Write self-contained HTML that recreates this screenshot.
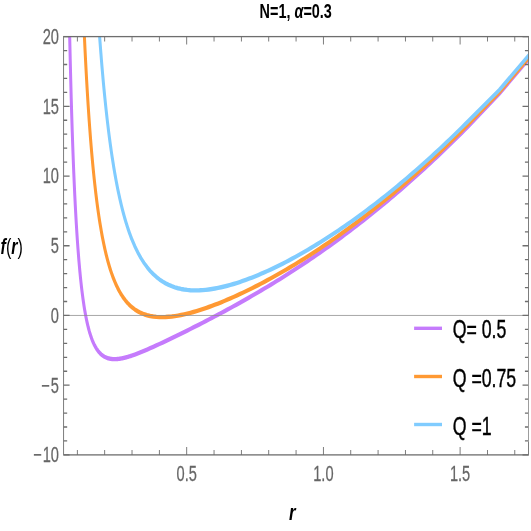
<!DOCTYPE html>
<html><head><meta charset="utf-8"><title>plot</title>
<style>html,body{margin:0;padding:0;background:#fff;}body{width:531px;height:531px;overflow:hidden;position:relative;font-family:"Liberation Sans",sans-serif;}</style></head>
<body>
<svg width="531" height="531" viewBox="0 0 772.926 531" preserveAspectRatio="none" style="position:absolute;left:0;top:0;will-change:transform;font-family:'Liberation Sans',sans-serif">
<defs><clipPath id="c"><rect x="92.58" y="36.60" width="676.71" height="418.29"/></clipPath></defs>
<g clip-path="url(#c)" fill="none" stroke-width="4.4" stroke-linejoin="round">
<path d="M99.94,-14.21 L100.69,12.36 L101.43,36.68 L102.18,58.99 L102.93,79.48 L103.67,98.34 L104.42,115.73 L105.16,131.77 L105.91,146.60 L106.66,160.34 L107.40,173.06 L108.15,184.87 L108.89,195.85 L109.64,206.05 L110.39,215.56 L111.13,224.41 L111.88,232.68 L112.62,240.39 L113.37,247.61 L114.12,254.35 L114.86,260.67 L115.61,266.58 L116.35,272.13 L117.10,277.33 L117.85,282.21 L118.59,286.80 L119.34,291.11 L120.08,295.16 L120.83,298.98 L121.58,302.57 L122.32,305.94 L123.07,309.13 L123.81,312.13 L124.56,314.96 L125.31,317.62 L126.05,320.14 L126.80,322.51 L127.55,324.75 L128.29,326.87 L129.04,328.86 L129.78,330.75 L130.53,332.53 L131.28,334.21 L132.02,335.80 L132.77,337.30 L133.51,338.72 L134.26,340.06 L135.01,341.32 L135.75,342.52 L136.50,343.65 L137.24,344.71 L137.99,345.72 L138.74,346.67 L139.48,347.56 L140.23,348.41 L140.97,349.20 L141.72,349.95 L142.47,350.66 L143.21,351.33 L143.96,351.95 L144.70,352.54 L145.45,353.09 L146.20,353.61 L146.94,354.10 L147.69,354.56 L148.43,354.98 L149.18,355.38 L149.93,355.76 L150.67,356.10 L151.42,356.43 L152.16,356.73 L152.91,357.00 L153.66,357.26 L154.40,357.50 L155.15,357.71 L155.89,357.91 L156.64,358.09 L157.39,358.26 L158.13,358.41 L158.88,358.54 L159.62,358.66 L160.37,358.76 L161.12,358.85 L161.86,358.93 L162.61,358.99 L163.35,359.05 L164.10,359.09 L164.85,359.12 L165.59,359.14 L166.34,359.15 L167.08,359.15 L167.83,359.14 L168.58,359.13 L169.32,359.10 L170.07,359.07 L170.81,359.02 L171.56,358.98 L172.31,358.92 L173.05,358.86 L173.80,358.79 L174.54,358.71 L175.29,358.63 L176.04,358.54 L176.78,358.44 L177.53,358.34 L178.27,358.24 L179.02,358.13 L179.77,358.01 L180.51,357.89 L181.26,357.77 L182.00,357.64 L182.75,357.51 L183.50,357.37 L184.24,357.23 L184.99,357.09 L185.73,356.94 L186.48,356.79 L187.23,356.63 L187.97,356.47 L188.72,356.31 L189.46,356.15 L190.21,355.98 L190.96,355.81 L191.70,355.64 L196.19,354.55 L200.69,353.38 L205.18,352.16 L209.67,350.88 L214.16,349.56 L218.65,348.21 L223.14,346.82 L227.63,345.42 L232.12,343.99 L236.61,342.55 L241.10,341.09 L245.60,339.62 L250.09,338.13 L254.58,336.64 L259.07,335.13 L263.56,333.61 L268.05,332.09 L272.54,330.55 L277.03,329.00 L281.52,327.45 L286.01,325.88 L290.51,324.31 L295.00,322.72 L299.49,321.13 L303.98,319.52 L308.47,317.91 L312.96,316.28 L317.45,314.64 L321.94,312.99 L326.43,311.33 L330.92,309.66 L335.42,307.98 L339.91,306.28 L344.40,304.57 L348.89,302.85 L353.38,301.11 L357.87,299.36 L362.36,297.60 L366.85,295.82 L371.34,294.03 L375.83,292.22 L380.33,290.40 L384.82,288.57 L389.31,286.71 L393.80,284.85 L398.29,282.96 L402.78,281.06 L407.27,279.15 L411.76,277.22 L416.25,275.27 L420.74,273.31 L425.24,271.32 L429.73,269.32 L434.22,267.31 L438.71,265.28 L443.20,263.22 L447.69,261.16 L452.18,259.07 L456.67,256.96 L461.16,254.84 L465.65,252.70 L470.15,250.54 L474.64,248.36 L479.13,246.17 L483.62,243.95 L488.11,241.72 L492.60,239.46 L497.09,237.19 L501.58,234.90 L506.07,232.59 L510.56,230.26 L515.06,227.91 L519.55,225.54 L524.04,223.15 L528.53,220.74 L533.02,218.31 L537.51,215.87 L542.00,213.40 L546.49,210.91 L550.98,208.40 L555.47,205.87 L559.97,203.32 L564.46,200.75 L568.95,198.16 L573.44,195.55 L577.93,192.92 L582.42,190.27 L586.91,187.60 L591.40,184.90 L595.89,182.19 L600.38,179.45 L604.88,176.70 L609.37,173.92 L613.86,171.12 L618.35,168.31 L622.84,165.47 L627.33,162.60 L631.82,159.72 L636.31,156.82 L640.80,153.89 L645.29,150.95 L649.79,147.98 L654.28,144.99 L658.77,141.98 L663.26,138.95 L667.75,135.89 L672.24,132.82 L676.73,129.72 L681.22,126.60 L726.78,93.73 L769.29,59.32 L780.93,49.89" stroke="#C57BFC"/>
<path d="M120.08,-8.81 L120.83,4.22 L121.58,16.62 L122.32,28.41 L123.07,39.65 L123.81,50.35 L124.56,60.56 L125.31,70.30 L126.05,79.60 L126.80,88.48 L127.55,96.97 L128.29,105.08 L129.04,112.85 L129.78,120.28 L130.53,127.39 L131.28,134.21 L132.02,140.75 L132.77,147.01 L133.51,153.02 L134.26,158.79 L135.01,164.33 L135.75,169.65 L136.50,174.76 L137.24,179.67 L137.99,184.39 L138.74,188.94 L139.48,193.31 L140.23,197.51 L140.97,201.57 L141.72,205.47 L142.47,209.22 L143.21,212.84 L143.96,216.34 L144.70,219.70 L145.45,222.95 L146.20,226.08 L146.94,229.10 L147.69,232.02 L148.43,234.83 L149.18,237.55 L149.93,240.18 L150.67,242.71 L151.42,245.16 L152.16,247.53 L152.91,249.82 L153.66,252.04 L154.40,254.18 L155.15,256.25 L155.89,258.26 L156.64,260.19 L157.39,262.07 L158.13,263.89 L158.88,265.64 L159.62,267.35 L160.37,268.99 L161.12,270.59 L161.86,272.14 L162.61,273.63 L163.35,275.08 L164.10,276.49 L164.85,277.85 L165.59,279.17 L166.34,280.45 L167.08,281.69 L167.83,282.89 L168.58,284.05 L169.32,285.18 L170.07,286.28 L170.81,287.34 L171.56,288.37 L172.31,289.37 L173.05,290.34 L173.80,291.28 L174.54,292.19 L175.29,293.07 L176.04,293.93 L176.78,294.76 L177.53,295.56 L178.27,296.35 L179.02,297.10 L179.77,297.84 L180.51,298.55 L181.26,299.24 L182.00,299.91 L182.75,300.57 L183.50,301.20 L184.24,301.81 L184.99,302.40 L185.73,302.98 L186.48,303.53 L187.23,304.07 L187.97,304.60 L188.72,305.11 L189.46,305.60 L190.21,306.08 L190.96,306.54 L191.70,306.99 L196.19,309.40 L200.69,311.37 L205.18,312.97 L209.67,314.25 L214.16,315.25 L218.65,316.01 L223.14,316.55 L227.63,316.90 L232.12,317.09 L236.61,317.13 L241.10,317.04 L245.60,316.82 L250.09,316.51 L254.58,316.09 L259.07,315.59 L263.56,315.00 L268.05,314.34 L272.54,313.62 L277.03,312.83 L281.52,311.98 L286.01,311.08 L290.51,310.13 L295.00,309.13 L299.49,308.09 L303.98,307.00 L308.47,305.87 L312.96,304.71 L317.45,303.51 L321.94,302.27 L326.43,301.00 L330.92,299.70 L335.42,298.36 L339.91,297.00 L344.40,295.60 L348.89,294.18 L353.38,292.73 L357.87,291.25 L362.36,289.74 L366.85,288.21 L371.34,286.65 L375.83,285.07 L380.33,283.46 L384.82,281.82 L389.31,280.17 L393.80,278.48 L398.29,276.78 L402.78,275.05 L407.27,273.30 L411.76,271.52 L416.25,269.72 L420.74,267.90 L425.24,266.06 L429.73,264.19 L434.22,262.30 L438.71,260.38 L443.20,258.45 L447.69,256.49 L452.18,254.51 L456.67,252.51 L461.16,250.49 L465.65,248.44 L470.15,246.37 L474.64,244.28 L479.13,242.17 L483.62,240.04 L488.11,237.88 L492.60,235.70 L497.09,233.50 L501.58,231.28 L506.07,229.04 L510.56,226.77 L515.06,224.49 L519.55,222.18 L524.04,219.85 L528.53,217.49 L533.02,215.12 L537.51,212.72 L542.00,210.30 L546.49,207.86 L550.98,205.40 L555.47,202.92 L559.97,200.41 L564.46,197.88 L568.95,195.33 L573.44,192.76 L577.93,190.17 L582.42,187.55 L586.91,184.91 L591.40,182.25 L595.89,179.57 L600.38,176.87 L604.88,174.14 L609.37,171.39 L613.86,168.62 L618.35,165.83 L622.84,163.02 L627.33,160.18 L631.82,157.32 L636.31,154.44 L640.80,151.54 L645.29,148.61 L649.79,145.67 L654.28,142.70 L658.77,139.70 L663.26,136.69 L667.75,133.65 L672.24,130.59 L676.73,127.51 L681.22,124.41 L726.78,92.16 L769.29,58.01 L780.93,48.65" stroke="#FF9933"/>
<path d="M140.23,-13.73 L140.97,-5.13 L141.72,3.18 L142.47,11.21 L143.21,18.97 L143.96,26.47 L144.70,33.72 L145.45,40.74 L146.20,47.53 L146.94,54.10 L147.69,60.46 L148.43,66.62 L149.18,72.58 L149.93,78.36 L150.67,83.97 L151.42,89.40 L152.16,94.67 L152.91,99.77 L153.66,104.73 L154.40,109.54 L155.15,114.21 L155.89,118.74 L156.64,123.14 L157.39,127.41 L158.13,131.56 L158.88,135.59 L159.62,139.51 L160.37,143.32 L161.12,147.02 L161.86,150.62 L162.61,154.13 L163.35,157.53 L164.10,160.85 L164.85,164.07 L165.59,167.21 L166.34,170.26 L167.08,173.24 L167.83,176.13 L168.58,178.95 L169.32,181.70 L170.07,184.38 L170.81,186.98 L171.56,189.52 L172.31,192.00 L173.05,194.41 L173.80,196.76 L174.54,199.06 L175.29,201.29 L176.04,203.47 L176.78,205.60 L177.53,207.67 L178.27,209.70 L179.02,211.67 L179.77,213.60 L180.51,215.47 L181.26,217.31 L182.00,219.10 L182.75,220.85 L183.50,222.55 L184.24,224.22 L184.99,225.84 L185.73,227.43 L186.48,228.98 L187.23,230.50 L187.97,231.97 L188.72,233.42 L189.46,234.83 L190.21,236.21 L190.96,237.56 L191.70,238.87 L196.19,246.18 L200.69,252.56 L205.18,258.12 L209.67,262.98 L214.16,267.22 L218.65,270.93 L223.14,274.16 L227.63,276.98 L232.12,279.43 L236.61,281.54 L241.10,283.36 L245.60,284.91 L250.09,286.23 L254.58,287.32 L259.07,288.22 L263.56,288.95 L268.05,289.50 L272.54,289.91 L277.03,290.19 L281.52,290.33 L286.01,290.36 L290.51,290.28 L295.00,290.10 L299.49,289.83 L303.98,289.47 L308.47,289.03 L312.96,288.51 L317.45,287.91 L321.94,287.25 L326.43,286.53 L330.92,285.74 L335.42,284.90 L339.91,283.99 L344.40,283.04 L348.89,282.04 L353.38,280.98 L357.87,279.88 L362.36,278.74 L366.85,277.55 L371.34,276.32 L375.83,275.05 L380.33,273.73 L384.82,272.39 L389.31,271.00 L393.80,269.58 L398.29,268.12 L402.78,266.63 L407.27,265.10 L411.76,263.55 L416.25,261.95 L420.74,260.33 L425.24,258.68 L429.73,257.00 L434.22,255.28 L438.71,253.54 L443.20,251.77 L447.69,249.96 L452.18,248.14 L456.67,246.28 L461.16,244.39 L465.65,242.48 L470.15,240.54 L474.64,238.57 L479.13,236.58 L483.62,234.56 L488.11,232.51 L492.60,230.44 L497.09,228.34 L501.58,226.22 L506.07,224.07 L510.56,221.89 L515.06,219.69 L519.55,217.47 L524.04,215.22 L528.53,212.95 L533.02,210.65 L537.51,208.32 L542.00,205.97 L546.49,203.60 L550.98,201.20 L555.47,198.78 L559.97,196.34 L564.46,193.87 L568.95,191.37 L573.44,188.86 L577.93,186.31 L582.42,183.75 L586.91,181.16 L591.40,178.55 L595.89,175.91 L600.38,173.25 L604.88,170.56 L609.37,167.86 L613.86,165.12 L618.35,162.37 L622.84,159.59 L627.33,156.79 L631.82,153.96 L636.31,151.11 L640.80,148.24 L645.29,145.35 L649.79,142.43 L654.28,139.48 L658.77,136.52 L663.26,133.53 L667.75,130.52 L672.24,127.48 L676.73,124.42 L681.22,121.34 L726.78,89.95 L769.29,55.60 L780.93,46.18" stroke="#80CCFF"/>
</g>
<line x1="92.58" y1="315.46" x2="769.29" y2="315.46" stroke="#8c8c8c" stroke-width="0.9"/>
<rect x="589.52" y="316" width="183.41" height="126" fill="#fff"/>
<g stroke="#6e6e6e" stroke-width="1.3" fill="none">
<rect x="92.58" y="36.60" width="676.71" height="418.29"/>
<path d="M112.58,454.89 v-5.00 M112.58,36.60 v5.00 M152.37,454.89 v-5.00 M152.37,36.60 v5.00 M192.17,454.89 v-5.00 M192.17,36.60 v5.00 M231.97,454.89 v-5.00 M231.97,36.60 v5.00 M271.76,454.89 v-8.00 M271.76,36.60 v8.00 M311.56,454.89 v-5.00 M311.56,36.60 v5.00 M351.35,454.89 v-5.00 M351.35,36.60 v5.00 M391.15,454.89 v-5.00 M391.15,36.60 v5.00 M430.95,454.89 v-5.00 M430.95,36.60 v5.00 M470.74,454.89 v-8.00 M470.74,36.60 v8.00 M510.54,454.89 v-5.00 M510.54,36.60 v5.00 M550.33,454.89 v-5.00 M550.33,36.60 v5.00 M590.13,454.89 v-5.00 M590.13,36.60 v5.00 M629.93,454.89 v-5.00 M629.93,36.60 v5.00 M669.72,454.89 v-8.00 M669.72,36.60 v8.00 M709.52,454.89 v-5.00 M709.52,36.60 v5.00 M749.32,454.89 v-5.00 M749.32,36.60 v5.00 M92.58,454.89 h8.70 M769.29,454.89 h-8.70 M92.58,440.95 h5.20 M769.29,440.95 h-5.20 M92.58,427.00 h5.20 M769.29,427.00 h-5.20 M92.58,413.06 h5.20 M769.29,413.06 h-5.20 M92.58,399.12 h5.20 M769.29,399.12 h-5.20 M92.58,385.18 h8.70 M769.29,385.18 h-8.70 M92.58,371.23 h5.20 M769.29,371.23 h-5.20 M92.58,357.29 h5.20 M769.29,357.29 h-5.20 M92.58,343.35 h5.20 M769.29,343.35 h-5.20 M92.58,329.40 h5.20 M769.29,329.40 h-5.20 M92.58,315.46 h8.70 M769.29,315.46 h-8.70 M92.58,301.52 h5.20 M769.29,301.52 h-5.20 M92.58,287.57 h5.20 M769.29,287.57 h-5.20 M92.58,273.63 h5.20 M769.29,273.63 h-5.20 M92.58,259.69 h5.20 M769.29,259.69 h-5.20 M92.58,245.75 h8.70 M769.29,245.75 h-8.70 M92.58,231.80 h5.20 M769.29,231.80 h-5.20 M92.58,217.86 h5.20 M769.29,217.86 h-5.20 M92.58,203.92 h5.20 M769.29,203.92 h-5.20 M92.58,189.97 h5.20 M769.29,189.97 h-5.20 M92.58,176.03 h8.70 M769.29,176.03 h-8.70 M92.58,162.09 h5.20 M769.29,162.09 h-5.20 M92.58,148.14 h5.20 M769.29,148.14 h-5.20 M92.58,134.20 h5.20 M769.29,134.20 h-5.20 M92.58,120.26 h5.20 M769.29,120.26 h-5.20 M92.58,106.32 h8.70 M769.29,106.32 h-8.70 M92.58,92.37 h5.20 M769.29,92.37 h-5.20 M92.58,78.43 h5.20 M769.29,78.43 h-5.20 M92.58,64.49 h5.20 M769.29,64.49 h-5.20 M92.58,50.54 h5.20 M769.29,50.54 h-5.20 M92.58,36.60 h8.70 M769.29,36.60 h-8.70"/>
</g>
<rect x="769.65" y="316" width="6" height="126" fill="#fff"/>
<g fill="#666666" font-size="21.3" stroke="#666666" stroke-width="0.25">
<text x="85.88" y="44.00" text-anchor="end">20</text>
<text x="85.88" y="113.72" text-anchor="end">15</text>
<text x="85.88" y="183.43" text-anchor="end">10</text>
<text x="85.88" y="253.15" text-anchor="end">5</text>
<text x="85.88" y="322.86" text-anchor="end">0</text>
<text x="85.88" y="392.58" text-anchor="end">−<tspan dx="1.4">5</tspan></text>
<text x="85.88" y="462.29" text-anchor="end">−<tspan dx="1.4">10</tspan></text>
<text x="271.76" y="480.60" text-anchor="middle">0.5</text>
<text x="470.74" y="480.60" text-anchor="middle">1.0</text>
<text x="669.72" y="480.60" text-anchor="middle">1.5</text>
</g>
<text x="430.49" y="18.4" text-anchor="middle" font-size="21.0" font-weight="bold" fill="#000">N=1, <tspan font-style="italic">α</tspan>=0.3</text>
<text x="0.87" y="254.0" font-size="21.3" fill="#000" textLength="32.4" lengthAdjust="spacingAndGlyphs"><tspan font-weight="bold" font-style="italic">f</tspan>(<tspan font-weight="bold" font-style="italic">r</tspan>)</text>
<text x="420.52" y="520.3" font-size="21.3" fill="#000" font-weight="bold" font-style="italic" textLength="9.6" lengthAdjust="spacingAndGlyphs">r</text>
<line x1="602.77" y1="328.30" x2="643.38" y2="328.30" stroke="#C57BFC" stroke-width="3.4"/>
<text x="658.95" y="338.50" font-size="25.8" fill="#000" stroke="#000" stroke-width="0.45">Q= 0.5</text>
<line x1="602.77" y1="376.50" x2="643.38" y2="376.50" stroke="#FF9933" stroke-width="3.4"/>
<text x="658.95" y="386.70" font-size="25.8" fill="#000" stroke="#000" stroke-width="0.45">Q =0.75</text>
<line x1="602.77" y1="424.50" x2="643.38" y2="424.50" stroke="#80CCFF" stroke-width="3.4"/>
<text x="658.95" y="434.70" font-size="25.8" fill="#000" stroke="#000" stroke-width="0.45">Q =1</text>
</svg>
</body></html>
